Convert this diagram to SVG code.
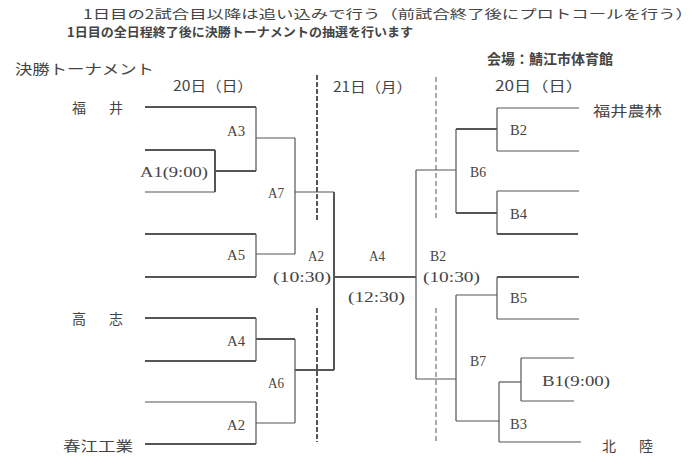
<svg xmlns="http://www.w3.org/2000/svg" width="700" height="460" viewBox="0 0 700 460">
<style>
.jp{font-family:"Noto Sans CJK JP","Noto Sans",sans-serif;fill:#444;font-size:14px}
.hd{font-size:12.5px}
.lb{font-family:"Liberation Serif","DejaVu Serif",serif;fill:#444;font-size:15px}
.t{stroke:#555;stroke-width:1.2;fill:none}
.k{stroke:#555;stroke-width:2;fill:none}
.d1{stroke:#555;stroke-width:2;stroke-dasharray:5 2;fill:none}
.d2{stroke:#555;stroke-width:1;stroke-dasharray:5 3;fill:none}
</style>
<rect width="700" height="460" fill="#fff"/>
<g id="header">
<text class="jp hd" x="83" y="19" textLength="610" lengthAdjust="spacingAndGlyphs">1日目の2試合目以降は追い込みで行う（前試合終了後にプロトコールを行う）</text>
<text class="jp hd" x="67" y="37" font-weight="bold" textLength="346" lengthAdjust="spacingAndGlyphs">1日目の全日程終了後に決勝トーナメントの抽選を行います</text>
<text class="jp" x="15" y="74" textLength="139" lengthAdjust="spacingAndGlyphs">決勝トーナメント</text>
<text class="jp" x="487" y="64" font-size="12" font-weight="bold" textLength="126" lengthAdjust="spacingAndGlyphs">会場：鯖江市体育館</text>
<text class="jp" x="173" y="91" textLength="80" lengthAdjust="spacingAndGlyphs">20日（日）</text>
<text class="jp" x="333" y="92" textLength="79" lengthAdjust="spacingAndGlyphs">21日（月）</text>
<text class="jp" x="495" y="91" textLength="88" lengthAdjust="spacingAndGlyphs">20日（日）</text>
</g>
<g id="teams">
<text class="jp" x="72" y="113" font-size="15" textLength="51" lengthAdjust="spacing">福　井</text>
<text class="jp" x="72" y="324" font-size="15" textLength="51" lengthAdjust="spacing">高　志</text>
<text class="jp" x="63" y="451" font-size="15" textLength="70" lengthAdjust="spacingAndGlyphs">春江工業</text>
<text class="jp" x="593" y="116" font-size="15" textLength="69" lengthAdjust="spacingAndGlyphs">福井農林</text>
<text class="jp" x="602" y="451" font-size="15" textLength="51" lengthAdjust="spacing">北　陸</text>
</g>
<g id="dividers">
<line class="d1" x1="317" y1="75" x2="317" y2="222"/>
<line class="d1" x1="317" y1="308" x2="317" y2="442"/>
<line class="d2" x1="436" y1="77" x2="436" y2="220"/>
<line class="d2" x1="436" y1="308" x2="436" y2="441"/>
</g>
<g id="connectors">
<line class="k" x1="145" y1="107" x2="256" y2="107"/>
<line class="t" x1="256" y1="107" x2="256" y2="171"/>
<line class="k" x1="145" y1="150" x2="215" y2="150"/>
<line class="k" x1="215" y1="150" x2="215" y2="192"/>
<line class="t" x1="145" y1="192" x2="215" y2="192"/>
<line class="k" x1="215" y1="171" x2="256" y2="171"/>
<line class="t" x1="256" y1="138" x2="295" y2="138"/>
<line class="k" x1="145" y1="234" x2="256" y2="234"/>
<line class="t" x1="256" y1="234" x2="256" y2="277"/>
<line class="k" x1="145" y1="277" x2="256" y2="277"/>
<line class="t" x1="256" y1="254" x2="295" y2="254"/>
<line class="t" x1="295" y1="138" x2="295" y2="254"/>
<line class="t" x1="295" y1="192" x2="334" y2="192"/>
<line class="k" x1="145" y1="318" x2="256" y2="318"/>
<line class="t" x1="256" y1="318" x2="256" y2="361"/>
<line class="k" x1="145" y1="361" x2="256" y2="361"/>
<line class="k" x1="256" y1="339" x2="295" y2="339"/>
<line class="t" x1="145" y1="402" x2="256" y2="402"/>
<line class="t" x1="256" y1="402" x2="256" y2="444"/>
<line class="k" x1="145" y1="444" x2="256" y2="444"/>
<line class="t" x1="256" y1="423" x2="295" y2="423"/>
<line class="t" x1="295" y1="339" x2="295" y2="423"/>
<line class="k" x1="295" y1="370" x2="334" y2="370"/>
<line class="k" x1="334" y1="192" x2="334" y2="370"/>
<line class="k" x1="334" y1="277" x2="416" y2="277"/>
<line class="t" x1="416" y1="170" x2="416" y2="379"/>
<line class="t" x1="416" y1="170" x2="456" y2="170"/>
<line class="t" x1="416" y1="379" x2="456" y2="379"/>
<line class="t" x1="456" y1="129" x2="456" y2="213"/>
<line class="k" x1="456" y1="129" x2="497" y2="129"/>
<line class="k" x1="456" y1="213" x2="497" y2="213"/>
<line class="t" x1="497" y1="108" x2="579" y2="108"/>
<line class="t" x1="497" y1="108" x2="497" y2="151"/>
<line class="t" x1="497" y1="151" x2="579" y2="151"/>
<line class="t" x1="497" y1="191" x2="579" y2="191"/>
<line class="t" x1="497" y1="191" x2="497" y2="234"/>
<line class="k" x1="497" y1="234" x2="578" y2="234"/>
<line class="k" x1="497" y1="277" x2="579" y2="277"/>
<line class="t" x1="497" y1="277" x2="497" y2="319"/>
<line class="t" x1="497" y1="319" x2="579" y2="319"/>
<line class="t" x1="456" y1="295" x2="497" y2="295"/>
<line class="t" x1="456" y1="295" x2="456" y2="421"/>
<line class="t" x1="456" y1="421" x2="499" y2="421"/>
<line class="t" x1="499" y1="382" x2="499" y2="442"/>
<line class="t" x1="499" y1="442" x2="581" y2="442"/>
<line class="t" x1="499" y1="382" x2="521" y2="382"/>
<line class="t" x1="521" y1="358" x2="574" y2="358"/>
<line class="t" x1="521" y1="358" x2="521" y2="401"/>
<line class="t" x1="521" y1="401" x2="574" y2="401"/>
</g>
<g id="labels">
<text class="lb" x="227" y="136" textLength="18" lengthAdjust="spacingAndGlyphs">A3</text>
<text class="lb" x="140" y="177" textLength="68" lengthAdjust="spacingAndGlyphs">A1(9:00)</text>
<text class="lb" x="268" y="198" textLength="16" lengthAdjust="spacingAndGlyphs">A7</text>
<text class="lb" x="227" y="260" textLength="18" lengthAdjust="spacingAndGlyphs">A5</text>
<text class="lb" x="308" y="261" textLength="16" lengthAdjust="spacingAndGlyphs">A2</text>
<text class="lb" x="273" y="282" textLength="58" lengthAdjust="spacingAndGlyphs">(10:30)</text>
<text class="lb" x="369" y="261" textLength="16" lengthAdjust="spacingAndGlyphs">A4</text>
<text class="lb" x="348" y="302" textLength="57" lengthAdjust="spacingAndGlyphs">(12:30)</text>
<text class="lb" x="430" y="261" textLength="16" lengthAdjust="spacingAndGlyphs">B2</text>
<text class="lb" x="423" y="282" textLength="57" lengthAdjust="spacingAndGlyphs">(10:30)</text>
<text class="lb" x="227" y="346" textLength="18" lengthAdjust="spacingAndGlyphs">A4</text>
<text class="lb" x="268" y="388" textLength="16" lengthAdjust="spacingAndGlyphs">A6</text>
<text class="lb" x="227" y="430" textLength="18" lengthAdjust="spacingAndGlyphs">A2</text>
<text class="lb" x="510" y="135" textLength="17" lengthAdjust="spacingAndGlyphs">B2</text>
<text class="lb" x="470" y="177" textLength="16" lengthAdjust="spacingAndGlyphs">B6</text>
<text class="lb" x="510" y="219" textLength="17" lengthAdjust="spacingAndGlyphs">B4</text>
<text class="lb" x="510" y="303" textLength="17" lengthAdjust="spacingAndGlyphs">B5</text>
<text class="lb" x="470" y="366" textLength="16" lengthAdjust="spacingAndGlyphs">B7</text>
<text class="lb" x="542" y="386" textLength="68" lengthAdjust="spacingAndGlyphs">B1(9:00)</text>
<text class="lb" x="510" y="429" textLength="17" lengthAdjust="spacingAndGlyphs">B3</text>
</g>
</svg>
